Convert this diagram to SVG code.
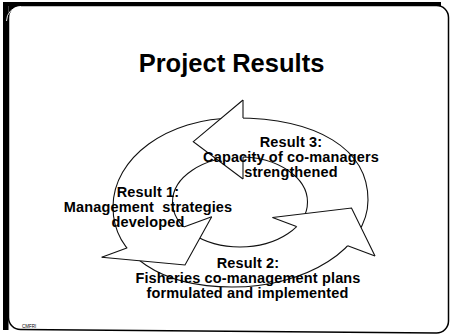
<svg xmlns="http://www.w3.org/2000/svg" width="450" height="335" viewBox="0 0 450 335">
  <style>
    .ln { fill: none; stroke: #111; stroke-width: 1.1; stroke-linejoin: miter; }
    .hd { fill: #fff; stroke: none; }
    .lbl { font-family: "Liberation Sans", Arial, sans-serif; font-weight: bold; font-size: 14.5px; fill: #000; text-anchor: middle; letter-spacing: 0.15px; }
    .ttl { font-family: "Liberation Sans", Arial, sans-serif; font-weight: bold; font-size: 25.5px; fill: #000; text-anchor: middle; }
    .tiny { font-family: "Liberation Sans", Arial, sans-serif; font-size: 4.5px; fill: #000; }
  </style>
  <defs>
    <clipPath id="outsideRing">
      <path clip-rule="evenodd" d="M0,0 H450 V335 H0 Z M235,118 C317.5,118 368,149 368,200 C368,248 307.1,287 232,287 C160.6,287 113,255 113,207 C113,157.8 167.6,118 235,118 Z M172.5,202 a67.5,45 0 1,0 135,0 a67.5,45 0 1,0 -135,0 Z"/>
    </clipPath>
  </defs>

  <rect width="450" height="335" fill="#fff"/>

  <g id="frame">
    <rect x="3" y="2" width="438" height="4" fill="#000"/>
    <rect x="3" y="2" width="5.5" height="328" fill="#000"/>
    <path d="M8.5,5.5 H20.5 A12,12 0 0 0 8.5,17.5 Z" fill="#000"/>
    <path d="M20.5,5.5 H436.5 A12,12 0 0 1 448.5,17.5 V321 A12,12 0 0 1 436.5,333 L20.5,329.5 A12,12 0 0 1 8.5,317.5 V17.5 A12,12 0 0 1 20.5,5.5 Z" fill="none" stroke="#000" stroke-width="1.5"/>
    <path d="M6.5,21 A14.5,14.5 0 0 1 21,6.5" fill="none" stroke="#fff" stroke-width="0.9"/>
    <text class="tiny" x="22" y="328">CMFRI</text>
  </g>

  <g id="title">
    <text class="ttl" x="231.5" y="72">Project Results</text>
  </g>

  <g id="connectors">
    <!-- ring outlines -->
    <path class="ln" d="M235,118 C317.5,118 368,149 368,200 C368,248 307.1,287 232,287 C160.6,287 113,255 113,207 C113,157.8 167.6,118 235,118 Z"/>
    <ellipse class="ln" cx="240" cy="202" rx="67.5" ry="45"/>

    <!-- arrow 1 head (left, toward Result 2) -->
    <polygon class="hd" points="101.7,257.3 185,265 211.7,216.7"/>
    <polyline class="ln" points="101.7,257.3 185,265 211.7,216.7"/>
    <line class="ln" x1="101.7" y1="257.3" x2="211.7" y2="216.7" clip-path="url(#outsideRing)"/>

    <!-- arrow 2 head (right, toward Result 3) -->
    <polygon class="hd" points="375,256 351.5,208 272.5,217.5"/>
    <polyline class="ln" points="375,256 351.5,208 272.5,217.5"/>
    <line class="ln" x1="375" y1="256" x2="272.5" y2="217.5" clip-path="url(#outsideRing)"/>

    <!-- arrow 3 head (top, toward Result 1) -->
    <polygon class="hd" points="243,100 193.3,141.7 243,179"/>
    <polyline class="ln" points="243,100 193.3,141.7 243,179"/>
    <line class="ln" x1="243" y1="100" x2="243" y2="179" clip-path="url(#outsideRing)"/>
  </g>

  <g id="result-3">
    <text class="lbl" x="291" y="147">Result 3:</text>
    <text class="lbl" x="291" y="162">Capacity of co-managers</text>
    <text class="lbl" x="291" y="177">strengthened</text>
  </g>

  <g id="result-1">
    <text class="lbl" x="148" y="196.5">Result 1:</text>
    <text class="lbl" x="148" y="212" xml:space="preserve">Management  strategies</text>
    <text class="lbl" x="148" y="227">developed</text>
  </g>

  <g id="result-2">
    <text class="lbl" x="248" y="267.5">Result 2:</text>
    <text class="lbl" x="248" y="283">Fisheries co-management plans</text>
    <text class="lbl" x="247.5" y="298">formulated and implemented</text>
  </g>
</svg>
